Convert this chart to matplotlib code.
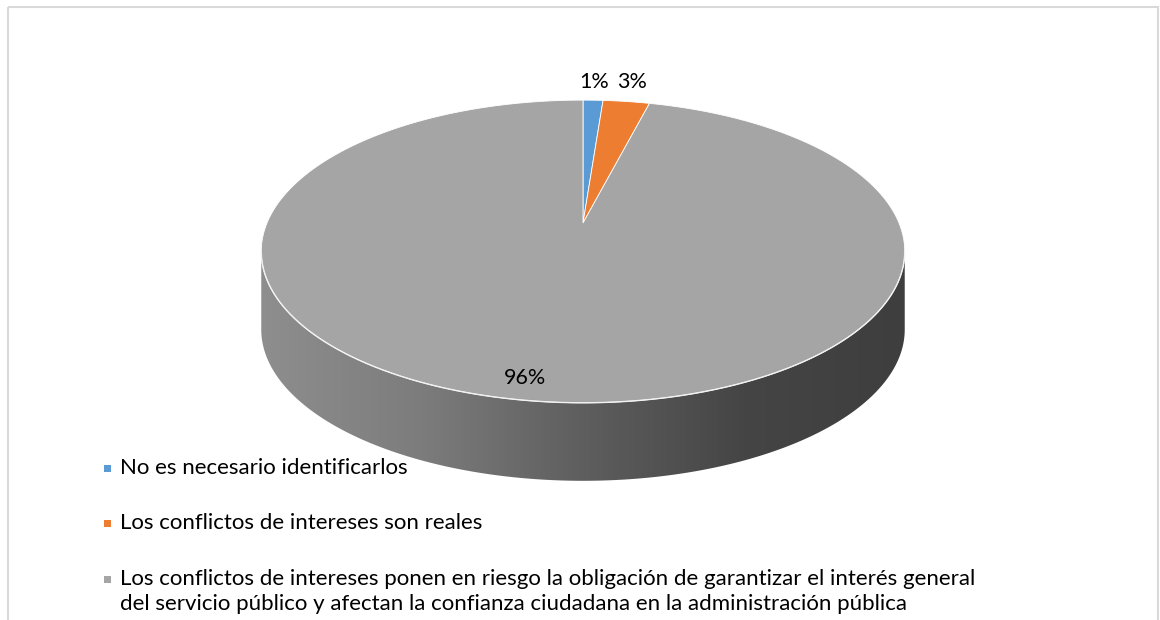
import numpy as np
import matplotlib.pyplot as plt
from matplotlib.patches import Polygon, Rectangle
from matplotlib.colors import LinearSegmentedColormap

# Datos
categorias = [
    "No es necesario identificarlos",
    "Los conflictos de intereses son reales",
    "Los conflictos de intereses ponen en riesgo la obligación de garantizar el interés general\n"
    "del servicio público y afectan la confianza ciudadana en la administración pública",
]
valores = [1.2, 2.8, 96.0]
colores = ["#5B9BD5", "#ED7D31", "#A5A5A5"]

# Geometria del pastel 3D (pixeles), con algo de perspectiva
cx, cy = 583, 223
A, B = 316, 146
k = 0.188
prof = 78

plt.rcParams["font.family"] = ["Lato", "DejaVu Sans"]

fig = plt.figure(figsize=(11.6, 6.2), dpi=100)
ax = fig.add_axes([0, 0, 1, 1])
ax.set_xlim(0, 1160)
ax.set_ylim(620, 0)
ax.axis("off")


def punto(theta, r=1.0):
    # theta en grados, desde arriba en sentido horario
    t = np.radians(theta)
    u = r * np.sin(t)
    v = r * np.cos(t)
    w = 1 + k * v
    return cx + A * u / w, cy - B * v / w


# Marco del grafico
ax.add_patch(Rectangle((8, 7), 1150, 640, fill=False, edgecolor="#D9D9D9", lw=1.5))

# Lado del cilindro con degradado
lim = np.degrees(np.arccos(-k))
t = np.linspace(lim, 360 - lim, 400)
xs, ys = punto(t)
lado = np.vstack([np.column_stack([xs, ys]), np.column_stack([xs[::-1], ys[::-1] + prof])])
poly = Polygon(lado, closed=True, facecolor="none", edgecolor="none")
ax.add_patch(poly)
grad = np.linspace(0, 1, 256)[None, :]
cmap = LinearSegmentedColormap.from_list("g", ["#8E8E8E", "#7C7C7C", "#5E5E5E", "#454545", "#3E3E3E"])
img = ax.imshow(grad, cmap=cmap, aspect="auto",
                extent=[xs.min(), xs.max(), ys.max() + prof, ys.min()], zorder=1)
img.set_clip_path(poly)

# Cara superior
total = sum(valores)
inicio = 0.0
angulos = []
for v, c in zip(valores, colores):
    fin = inicio + v / total * 360
    tt = np.linspace(inicio, fin, max(int(fin - inicio) * 2, 10))
    px, py = punto(tt)
    pts = np.vstack([[cx, cy], np.column_stack([px, py])])
    ax.add_patch(Polygon(pts, closed=True, facecolor=c, edgecolor="white", lw=0.6, zorder=2))
    angulos.append((inicio, fin))
    inicio = fin

# Borde blanco entre cara y lado
ax.plot(xs, ys, color="#F2F2F2", lw=1.0, zorder=3)

# Etiquetas de datos
for v, (a0, a1) in zip(valores, angulos):
    etiqueta = f"{v / total * 100:.0f}%"
    mid = (a0 + a1) / 2
    if v / total < 0.1:
        x, _ = punto(mid, 1.17)
        y = 82
    else:
        x, y = punto(mid, 0.89)
        x -= 16
    ax.text(x, y, etiqueta, ha="center", va="center", fontsize=15.5, color="#000000", zorder=4)

# Leyenda
ley_y = [468, 523, 579]
for cat, c, y in zip(categorias, colores, ley_y):
    ax.add_patch(Rectangle((104, y - 3.5), 7, 7, facecolor=c, edgecolor="none"))
    ax.text(120, y - 10, cat, ha="left", va="top", fontsize=16, color="#000000", linespacing=1.3)

fig.savefig("out.png", dpi=100)
